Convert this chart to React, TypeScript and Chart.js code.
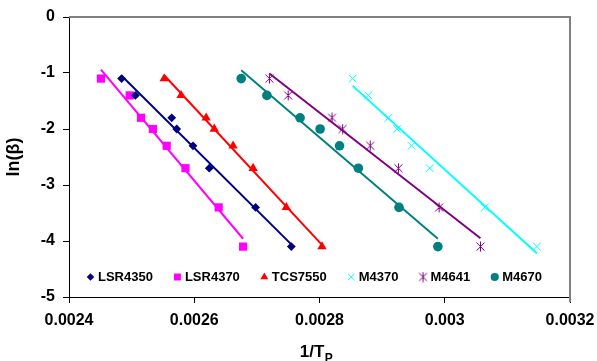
import { useEffect, useRef } from 'react';
import { Chart, registerables } from 'chart.js';
import { drawPoint } from 'chart.js/helpers';

Chart.register(...registerables);

const seriesNames = ['LSR4350', 'LSR4370', 'TCS7550', 'M4370', 'M4641', 'M4670'];
const lnBeta = [-1.1, -1.4, -1.8, -2.0, -2.3, -2.7, -3.4, -4.1];

const xLSR4350 = [0.002484, 0.002506, 0.002564, 0.002572, 0.002598, 0.002624, 0.002698, 0.002755];
const xLSR4370 = [0.002451, 0.002497, 0.002515, 0.002534, 0.002556, 0.002586, 0.002639, 0.002678];
const xTCS7550 = [0.002552, 0.002579, 0.002619, 0.002632, 0.002662, 0.002694, 0.002747, 0.002804];
const xM4370 = [0.002853, 0.002878, 0.00291, 0.002924, 0.002947, 0.002976, 0.003064, 0.003147];
const xM4641 = [0.00272, 0.00275, 0.00282, 0.002837, 0.002881, 0.002926, 0.002991, 0.003057];
const xM4670 = [0.002675, 0.002716, 0.002769, 0.002801, 0.002832, 0.002862, 0.002927, 0.002989];

// trendline end points: [start, end]
const trendLSR4350X = [0.002484, 0.002755];
const trendLSR4350Y = [-1.05, -4.06];
const trendLSR4370X = [0.002451, 0.002678];
const trendLSR4370Y = [-0.94, -3.96];
const trendTCS7550X = [0.002552, 0.002804];
const trendTCS7550Y = [-1.04, -4.07];
const trendM4370X = [0.002853, 0.003147];
const trendM4370Y = [-1.23, -4.22];
const trendM4641X = [0.00272, 0.003057];
const trendM4641Y = [-1.01, -3.95];
const trendM4670X = [0.002675, 0.002989];
const trendM4670Y = [-0.95, -3.96];

const xTicks = [0.0024, 0.0026, 0.0028, 0.003, 0.0032];
const xTickLabels = ['0.0024', '0.0026', '0.0028', '0.003', '0.0032'];
const yTicks = [-5, -4, -3, -2, -1, 0];
const yTickLabels = ['-5', '-4', '-3', '-2', '-1', '0'];

const FONT = '"Liberation Sans", Arial, sans-serif';

function makeStar(color: string): HTMLCanvasElement {
  const c = document.createElement('canvas');
  c.width = 11;
  c.height = 11;
  const g = c.getContext('2d')!;
  g.strokeStyle = color;
  g.lineWidth = 1;
  g.beginPath();
  g.moveTo(1.5, 1.5);
  g.lineTo(9.5, 9.5);
  g.moveTo(9.5, 1.5);
  g.lineTo(1.5, 9.5);
  g.moveTo(5.5, 0.5);
  g.lineTo(5.5, 10.5);
  g.stroke();
  return c;
}

export default function App() {
  const ref = useRef<HTMLCanvasElement>(null);

  useEffect(() => {
    if (!ref.current) return;
    const star = makeStar('#800080');
    const xs = [xLSR4350, xLSR4370, xTCS7550, xM4370, xM4641, xM4670];
    const tx = [trendLSR4350X, trendLSR4370X, trendTCS7550X, trendM4370X, trendM4641X, trendM4670X];
    const ty = [trendLSR4350Y, trendLSR4370Y, trendTCS7550Y, trendM4370Y, trendM4641Y, trendM4670Y];
    const colors = ['#000080', '#FF00FF', '#FF0000', '#00FFFF', '#800080', '#008080'];
    const styles: any[] = ['rectRot', 'rect', 'triangle', 'crossRot', star, 'circle'];
    const radii = [4.4, 5.8, 5.4, 5.4, 5, 4.8];

    const pointSets = seriesNames.map((name, i) => ({
      label: name,
      data: xs[i].map((x, j) => ({ x, y: lnBeta[j] })),
      showLine: false,
      pointStyle: styles[i],
      pointRadius: radii[i],
      pointBackgroundColor: colors[i],
      pointBorderColor: colors[i],
      pointBorderWidth: i === 3 ? 1 : 0,
      order: 2,
    }));
    const trendSets = seriesNames.map((name, i) => ({
      label: name + ' trend',
      data: tx[i].map((x, j) => ({ x, y: ty[i][j] })),
      showLine: true,
      borderColor: colors[i],
      borderWidth: 2,
      pointRadius: 0,
      fill: false,
      order: 1,
    }));

    const decor = {
      id: 'decor',
      beforeDatasetsDraw(chart: any) {
        const { ctx, chartArea: a } = chart;
        ctx.save();
        ctx.strokeStyle = '#808080';
        ctx.lineWidth = 2;
        ctx.beginPath();
        ctx.moveTo(a.left, a.top);
        ctx.lineTo(a.right, a.top);
        ctx.lineTo(a.right, a.bottom + 5);
        ctx.stroke();
        ctx.restore();
      },
      afterDraw(chart: any) {
        const { ctx } = chart;
        ctx.save();
        // legend
        ctx.font = 'bold 13px ' + FONT;
        ctx.textBaseline = 'middle';
        ctx.textAlign = 'left';
        let x = 90.5;
        const y = 277;
        seriesNames.forEach((name, i) => {
          ctx.fillStyle = colors[i];
          ctx.strokeStyle = colors[i];
          ctx.lineWidth = 1;
          drawPoint(ctx, { pointStyle: styles[i], radius: radii[i] * 0.85, borderWidth: i === 3 ? 1 : 0, rotation: 0 } as any, x, y);
          ctx.fillStyle = '#000';
          ctx.fillText(name, x + 7.5, y);
          x += 7.5 + ctx.measureText(name).width + 24.5;
        });
        // y title
        ctx.fillStyle = '#000';
        ctx.font = 'bold 18px ' + FONT;
        ctx.translate(14, 157);
        ctx.rotate(-Math.PI / 2);
        ctx.textAlign = 'center';
        ctx.fillText('ln(β)', 0, 0);
        ctx.setTransform(1, 0, 0, 1, 0, 0);
        // x title with subscript
        ctx.textAlign = 'left';
        ctx.textBaseline = 'alphabetic';
        ctx.font = 'bold 17px ' + FONT;
        const main = '1/T';
        const wMain = ctx.measureText(main).width;
        ctx.font = 'bold 12px ' + FONT;
        const wSub = ctx.measureText('P').width;
        const start = 316 - (wMain + wSub) / 2;
        ctx.font = 'bold 17px ' + FONT;
        ctx.fillText(main, start, 357);
        ctx.font = 'bold 12px ' + FONT;
        ctx.fillText('P', start + wMain + 0.5, 362);
        ctx.restore();
      },
    };

    const chart = new Chart(ref.current, {
      type: 'scatter',
      data: { datasets: [...trendSets, ...pointSets] as any },
      options: {
        animation: false,
        responsive: true,
        maintainAspectRatio: false,
        layout: { padding: { left: 0, top: 17, right: 27, bottom: 0 } },
        plugins: { legend: { display: false }, tooltip: { enabled: false } },
        scales: {
          x: {
            type: 'linear',
            min: 0.0024,
            max: 0.0032,
            afterBuildTicks: (s: any) => {
              s.ticks = xTicks.map((v) => ({ value: v }));
            },
            afterFit: (s: any) => {
              s.height = 64;
              s.paddingLeft = 0;
              s.paddingRight = 0;
            },
            ticks: {
              callback: (_v: any, i: number) => xTickLabels[i],
              font: { size: 16, weight: 'bold', family: FONT },
              color: '#000',
              padding: 8,
              maxRotation: 0,
              autoSkip: false,
            },
            grid: { display: true, drawOnChartArea: false, tickLength: 6, color: '#000' },
            border: { color: '#000', width: 1 },
          },
          y: {
            type: 'linear',
            min: -5,
            max: 0,
            afterBuildTicks: (s: any) => {
              s.ticks = yTicks.map((v) => ({ value: v }));
            },
            afterFit: (s: any) => {
              s.width = 69;
              s.paddingTop = 0;
              s.paddingBottom = 0;
            },
            ticks: {
              callback: (_v: any, i: number) => yTickLabels[i],
              font: { size: 16, weight: 'bold', family: FONT },
              color: '#000',
              padding: 8,
              autoSkip: false,
            },
            grid: { display: true, drawOnChartArea: false, tickLength: 6, color: '#000' },
            border: { color: '#000', width: 1 },
          },
        },
      },
      plugins: [decor],
    });
    return () => chart.destroy();
  }, []);

  return (
    <div style={{ position: 'fixed', left: 0, top: 0, width: 597, height: 361, background: '#fff' }}>
      <canvas ref={ref} />
    </div>
  );
}
